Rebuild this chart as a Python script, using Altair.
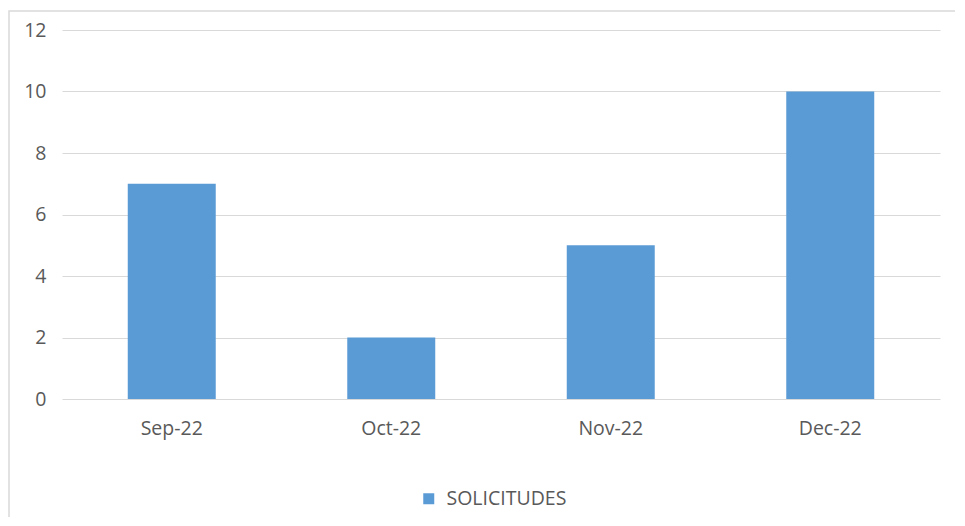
import altair as alt
import pandas as pd

months = ["Sep-22", "Oct-22", "Nov-22", "Dec-22"]
solicitudes = [7, 2, 5, 10]
series = "SOLICITUDES"

df = pd.DataFrame({"mes": months, "valor": solicitudes, "serie": [series] * len(months)})

W, H = 878, 369
FONT = "Open Sans"
TXT = "#595959"

border = alt.Chart(pd.DataFrame({"a": [0]})).mark_rect(
    fill="transparent", stroke="#d9d9d9", strokeWidth=1.5, clip=False
).encode(
    x=alt.value(-53), x2=alt.value(W + 100), y=alt.value(-19), y2=alt.value(H + 160)
)

bars = alt.Chart(df).mark_bar(size=88).encode(
    x=alt.X("mes:N", sort=months, title=None,
            scale=alt.Scale(paddingInner=0.6, paddingOuter=0.3),
            axis=alt.Axis(labelAngle=0, labelFont=FONT, labelFontSize=19.5, labelColor=TXT,
                          labelPadding=20, ticks=False, domain=False, grid=False)),
    y=alt.Y("valor:Q", title=None, scale=alt.Scale(domain=[0, 12]),
            axis=alt.Axis(values=[0, 2, 4, 6, 8, 10, 12], labelFont=FONT, labelFontSize=19.5,
                          labelColor=TXT, labelPadding=16, ticks=False, domain=False,
                          grid=True, gridColor="#d9d9d9", gridWidth=1.2)),
    color=alt.Color("serie:N", scale=alt.Scale(domain=[series], range=["#5b9bd5"]),
                    legend=alt.Legend(title=None, orient="none", legendX=357, legendY=459,
                                      symbolType="square", symbolSize=121, symbolStrokeWidth=0,
                                      labelFont=FONT, labelFontSize=19.5, labelColor=TXT,
                                      labelOffset=8)),
)

chart = alt.layer(border, bars).properties(
    width=W, height=H,
    background="white",
    autosize=alt.AutoSizeParams(type="none"),
    padding={"left": 54, "top": 22, "right": 15, "bottom": 118},
).configure_view(strokeWidth=0, stroke="transparent")

chart.save("out.html", embed_options={"renderer": "svg", "actions": False})
